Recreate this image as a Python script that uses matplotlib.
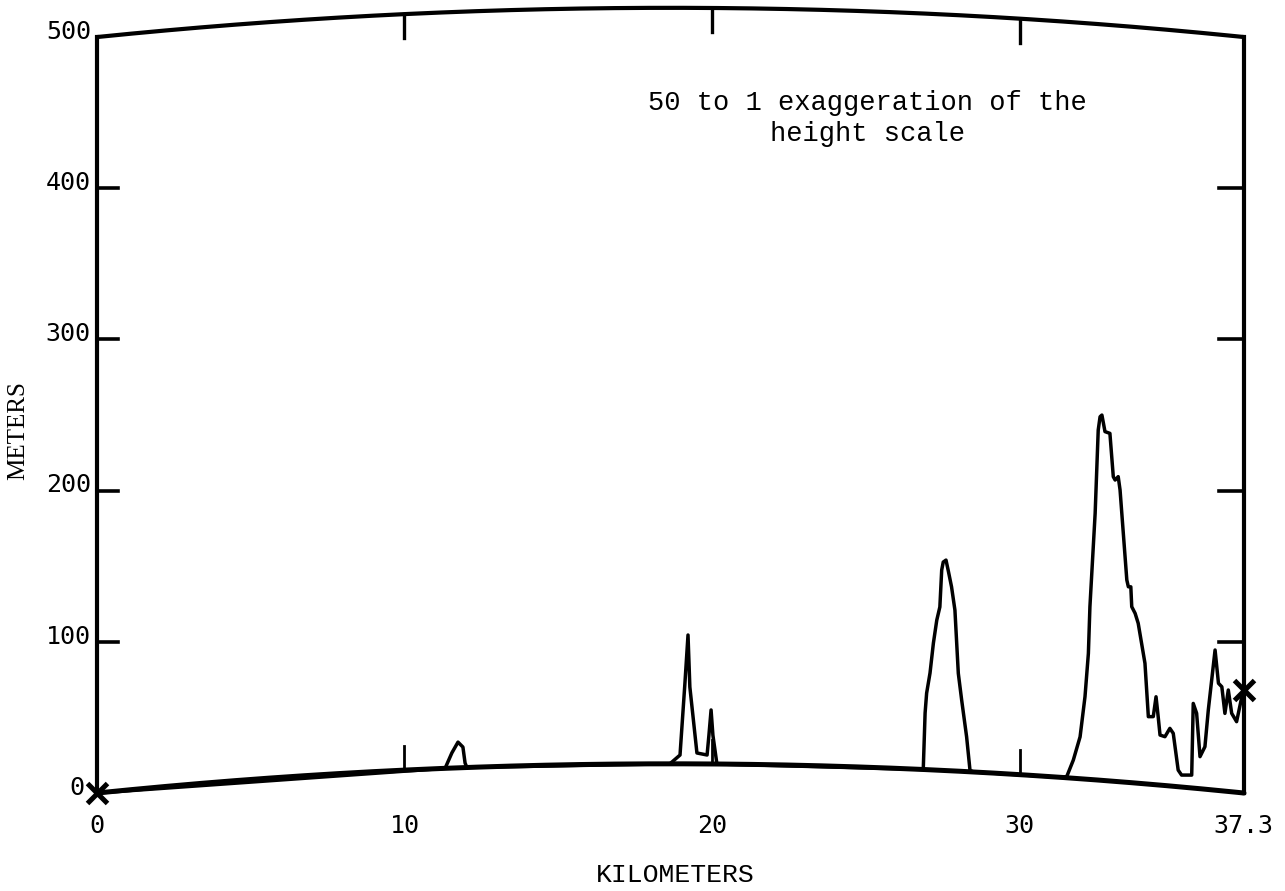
import numpy as np
import matplotlib
matplotlib.use("Agg")
import matplotlib.pyplot as plt

# Path profile: distance along the path (km) and terrain elevation (m)
distance_km = [0.0, 11.32, 11.54, 11.74, 11.90, 11.97, 12.03,
               18.63, 18.96, 19.12, 19.22, 19.28, 19.51, 19.84, 19.90, 19.97, 20.03, 20.16,
               26.87, 26.93, 26.98, 27.09, 27.20, 27.31, 27.41, 27.47, 27.52, 27.61, 27.69,
               27.79, 27.90, 28.01, 28.12, 28.28, 28.39, 28.50,
               31.41, 31.54, 31.75, 31.97, 32.13, 32.24, 32.29, 32.46, 32.56, 32.62, 32.68,
               32.78, 32.94, 33.05, 33.11, 33.21, 33.27, 33.49, 33.54, 33.62, 33.65, 33.76,
               33.86, 34.08, 34.19, 34.35, 34.44, 34.51, 34.57, 34.73, 34.89, 35.00, 35.16,
               35.27, 35.60, 35.65, 35.76, 35.87, 36.03, 36.14, 36.36, 36.47, 36.58, 36.68,
               36.79, 36.90, 37.06, 37.23, 37.30]
elevation_m = [0, 0, 10, 17, 13.6, 3, 0,
               0, 5.8, 53.5, 85.2, 50.8, 7.2, 5.9, 19, 35.7, 19, 0,
               0, 37.4, 50.6, 64, 83.9, 99.2, 108, 132.5, 137.8, 139.2, 131.6,
               121.7, 106.4, 64.7, 47, 23, 1, 0,
               0, 1, 12, 27.7, 54.5, 83.3, 114.2, 176.3, 231.5, 240.4, 241.6,
               230.8, 229.9, 201.4, 199.3, 201.7, 193, 133.8, 129.4, 129.5, 116.4, 112.2,
               105.8, 79.7, 44.6, 44.9, 58.2, 45.1, 33.1, 32.3, 38.1, 35, 11,
               7.9, 8.5, 56, 49.7, 21.2, 28.1, 52.6, 92.7, 70.9, 68.8, 51.4,
               67.1, 51.9, 46.7, 63.5, 68.1]

path_length_km = 37.3
x_ticks = [0, 10, 20, 30]
x_tick_labels = ["0", "10", "20", "30"]
y_ticks = [0, 100, 200, 300, 400, 500]
y_tick_labels = ["0", "100", "200", "300", "400", "500"]
effective_radius_km = 9000.0

TICK_FONT = "DejaVu Sans Mono"
TEXT_FONT = "Liberation Mono"


def earth_bulge(d):
    """Height (m) of the earth bulge at distance d along the path."""
    d = np.asarray(d, dtype=float)
    return d * (path_length_km - d) / (2.0 * effective_radius_km) * 1000.0


fig = plt.figure(figsize=(12.85, 8.91), dpi=100)
ax = fig.add_axes([0, 0, 1, 1])
ax.set_xlim(-3.154, 38.634)
ax.set_ylim(-64.8, 524.5)
ax.axis("off")

lw_frame = 3.0
lw_terrain = 2.5

# Curved frame: earth surface (bottom) and the 500 m reference (top)
xs = np.linspace(0, path_length_km, 400)
ax.plot(xs, earth_bulge(xs), color="black", lw=lw_frame + 0.6, solid_capstyle="round", zorder=3)
ax.plot(xs, 500 + earth_bulge(xs), color="black", lw=lw_frame, solid_capstyle="round", zorder=3)
ax.plot([0, 0], [0, 500], color="black", lw=lw_frame, zorder=3)
ax.plot([path_length_km, path_length_km], [0, 500], color="black", lw=lw_frame, zorder=3)

# Tick marks on the four sides
tick_v = 16.0
for xt in x_ticks[1:]:
    b = float(earth_bulge(xt))
    ax.plot([xt, xt], [500 + b, 500 + b - tick_v], color="black", lw=2.4, zorder=3)
    ax.plot([xt, xt], [b, b + tick_v], color="black", lw=2.0, zorder=3)
for yt in y_ticks[1:-1]:
    ax.plot([0, 0.68], [yt, yt], color="black", lw=2.6, zorder=3)
    ax.plot([path_length_km - 0.8, path_length_km], [yt, yt], color="black", lw=2.6, zorder=3)

# Terrain drawn on top of the curved earth
terrain_y = np.asarray(elevation_m) + earth_bulge(distance_km)
ax.plot(distance_km, terrain_y, color="black", lw=lw_terrain, solid_joinstyle="round", zorder=4)

# End-point markers
ax.plot([distance_km[0], distance_km[-1]], [terrain_y[0], terrain_y[-1]], linestyle="none",
        marker="x", markersize=15, markeredgewidth=3.6, color="black", zorder=5)

# Tick labels
for yt, lab in zip(y_ticks, y_tick_labels):
    xl = -0.4 if yt == 0 else -0.2
    ax.text(xl, yt + 3.5, lab, ha="right", va="center", fontsize=18, family=TICK_FONT)
for xt, lab in zip(x_ticks, x_tick_labels):
    ax.text(xt, -21.8, lab, ha="center", va="center", fontsize=18, family=TICK_FONT)
ax.text(path_length_km - 0.03, -21.8, "37.3", ha="center", va="center", fontsize=18, family=TICK_FONT)

# Axis titles
ax.text(18.8, -54.2, "KILOMETERS", ha="center", va="center", fontsize=19, family=TEXT_FONT)
ax.text(-2.57, 240, "METERS", ha="center", va="center", rotation=90, fontsize=18,
        family="Liberation Serif")

# Note on vertical exaggeration
ax.text(25.05, 446, "50 to 1 exaggeration of the\nheight scale", ha="center", va="center",
        multialignment="center", fontsize=19.5, family=TEXT_FONT, linespacing=1.25)

fig.savefig("out.png", dpi=100, facecolor="white")
